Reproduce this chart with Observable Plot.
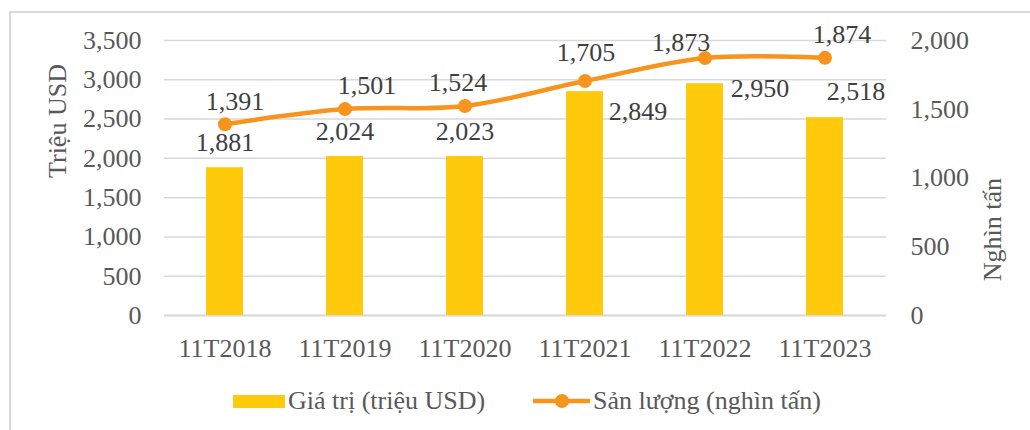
<!DOCTYPE html>
<html>
<head>
<meta charset="utf-8">
<script src="https://cdn.jsdelivr.net/npm/d3@7"></script>
<script src="https://cdn.jsdelivr.net/npm/@observablehq/plot@0.6"></script>
<style>
  html, body { margin: 0; padding: 0; background: #fff; }
  #wrap { position: relative; width: 1030px; height: 430px; background: #fff; overflow: hidden;
          font-family: "Liberation Serif", "Times New Roman", serif; color: #595959; }
  #frame { position: absolute; left: 9px; top: 11px; right: -5px; bottom: -5px;
           border-left: 2px solid #d9d9d9; border-top: 2px solid #d9d9d9; }
  #chart { position: absolute; left: 0; top: 0; }
  #chart svg, #chart svg text, #chart svg g { font-family: "Liberation Serif", "Times New Roman", serif !important; }
  .lg { position: absolute; top: 388px; height: 26px; display: flex; align-items: center;
        font-size: 26px; line-height: 26px; white-space: nowrap; }
</style>
</head>
<body>
<div id="wrap">
  <div id="frame"></div>
  <div id="chart"></div>
  <div id="legend"></div>
</div>
<script>
// ---- data ----
const categories = ["11T2018", "11T2019", "11T2020", "11T2021", "11T2022", "11T2023"];
const valueUSD = [1881, 2024, 2023, 2849, 2950, 2518];      // Giá trị (triệu USD)
const volumeKt = [1391, 1501, 1524, 1705, 1873, 1874];      // Sản lượng (nghìn tấn)
const leftTicks = [0, 500, 1000, 1500, 2000, 2500, 3000, 3500];
const rightTicks = [0, 500, 1000, 1500, 2000];
const seriesNames = ["Giá trị (triệu USD)", "Sản lượng (nghìn tấn)"];
const axisTitles = ["Triệu USD", "Nghìn tấn"];

// ---- label placement offsets (style, px) ----
const barLabelDx = [0, 0, 0, 53, 55, 31];
const barLabelDy = [-25, -25, -25, 20, 5, -26];
const lineLabelDx = [10, 22, -7, 1, -24, 17];
const lineLabelDy = [-23, -23, -23, -28, -15, -23];

const barColor = "#FFC90C";
const lineColor = "#F7941D";
const k = leftTicks[leftTicks.length - 1] / rightTicks[rightTicks.length - 1]; // right->left scale factor
const fmt = d3.format(",");

const rows = categories.map((c, i) => ({
  cat: c, usd: valueUSD[i], vol: volumeKt[i],
  bdx: barLabelDx[i], bdy: barLabelDy[i], ldx: lineLabelDx[i], ldy: lineLabelDy[i]
}));

const labelFill = "#404040";
const barLabels = rows.map(r => Plot.text([r], {
  x: "cat", y: "usd", text: d => fmt(d.usd), dx: r.bdx, dy: r.bdy,
  fill: labelFill, lineAnchor: "middle"
}));
const lineLabels = rows.map(r => Plot.text([r], {
  x: "cat", y: d => d.vol * k, text: d => fmt(d.vol), dx: r.ldx, dy: r.ldy,
  fill: labelFill, lineAnchor: "middle"
}));

const chart = Plot.plot({
  width: 1030,
  height: 375,
  marginTop: 40,
  marginBottom: 60,
  marginLeft: 164,
  marginRight: 144,
  style: { fontFamily: "Liberation Serif, serif", fontSize: "26px", color: "#595959", background: "transparent", overflow: "visible" },
  x: { domain: categories, paddingInner: 0.69, paddingOuter: 0.345, label: null },
  y: { domain: [0, leftTicks[leftTicks.length - 1]], label: null },
  marks: [
    Plot.gridY(leftTicks, { stroke: "#d9d9d9", strokeOpacity: 1, strokeWidth: 1.5 }),
    Plot.axisY(leftTicks, { anchor: "left", tickSize: 0, tickPadding: 23, tickFormat: fmt, label: null }),
    Plot.axisY(rightTicks.map(v => v * k), { anchor: "right", tickSize: 0, tickPadding: 24,
      tickFormat: d => fmt(Math.round(d / k)), label: null }),
    Plot.axisX({ tickSize: 0, tickPadding: 23, label: null }),
    Plot.ruleY([0], { stroke: "#d9d9d9", strokeWidth: 2 }),
    Plot.barY(rows, { x: "cat", y: "usd", fill: barColor }),
    Plot.line(rows, { x: "cat", y: d => d.vol * k, stroke: lineColor, strokeWidth: 4.5, curve: "catmull-rom" }),
    Plot.dot(rows, { x: "cat", y: d => d.vol * k, fill: lineColor, r: 7 }),
    ...barLabels,
    ...lineLabels,
    Plot.text([axisTitles[0]], { frameAnchor: "left", dx: -107, rotate: -90, fill: "#595959", lineAnchor: "middle" }),
    Plot.text([axisTitles[1]], { frameAnchor: "right", dx: 106, rotate: -90, fill: "#595959", lineAnchor: "middle" })
  ]
});
document.getElementById("chart").appendChild(chart);

// ---- legend ----
const legend = document.getElementById("legend");
legend.innerHTML = `
  <div class="lg" style="left:233px;">
    <span style="display:inline-block;width:52px;height:13px;background:${barColor};margin-right:3px;"></span>
    <span>${seriesNames[0]}</span>
  </div>
  <div class="lg" style="left:533px;">
    <svg width="57" height="16" style="margin-right:3px;display:block">
      <line x1="0" y1="8" x2="57" y2="8" stroke="${lineColor}" stroke-width="4.5" stroke-linecap="round"/>
      <circle cx="29" cy="8" r="7" fill="${lineColor}"/>
    </svg>
    <span>${seriesNames[1]}</span>
  </div>`;
</script>
</body>
</html>
